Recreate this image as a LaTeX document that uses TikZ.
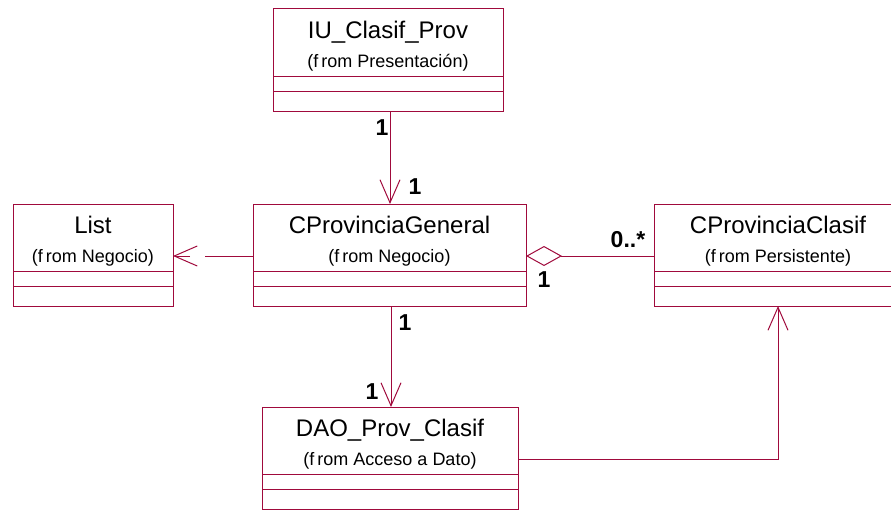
\documentclass[tikz,border=0pt]{standalone}
\usepackage{fontspec}
\setmainfont{Liberation Sans}
\usetikzlibrary{arrows.meta}
\definecolor{umlline}{RGB}{160,10,60}

% One UML class: id, left, top, right, class name, package
\newcommand\umlclass[6]{%
  \node[classbox, minimum width={#4-#2}, anchor=north west] (#1) at (#2,#3) {};
  \draw[umlline] ([yshift=-67pt]#1.north west) -- ([yshift=-67pt]#1.north east);
  \draw[umlline] ([yshift=-82pt]#1.north west) -- ([yshift=-82pt]#1.north east);
  \node[anchor=base, font=\fontsize{24}{28}\selectfont, inner sep=0pt] (#1-name) at ([yshift=-29pt]#1.north) {#5};
  \node[anchor=base, font=\fontsize{18}{22}\selectfont, inner sep=0pt] (#1-pkg) at ([yshift=-58pt]#1.north) {(f\kern3pt rom #6)};
}

\begin{document}
\begin{tikzpicture}[x=1pt, y=-1pt,
    umlline/.style={draw=umlline, line width=1pt},
    classbox/.style={rectangle, umlline, minimum height=102pt, inner sep=0pt, outer sep=0pt},
    navarrow/.style={umlline, -{Straight Barb[length=23pt, width=20pt, line width=1pt]}},
    aggr/.style={umlline, {Diamond[open, length=36pt, width=20pt, line width=1pt]}-},
    mult/.style={font=\bfseries\fontsize{23}{26}\selectfont, inner sep=0pt}]
  \useasboundingbox (0,0) rectangle (891,511);
  \clip (0,0) rectangle (891,511);

  % classes
  \umlclass{iu}{273}{9}{503}{IU\_Clasif\_Prov}{Presentación}
  \umlclass{list}{13}{204}{173}{List}{Negocio}
  \umlclass{cpg}{253}{204}{526}{CProvinciaGeneral}{Negocio}
  \umlclass{cpc}{654}{204}{902}{CProvinciaClasif}{Persistente}
  \umlclass{dao}{262}{407}{518}{DAO\_Prov\_Clasif}{Acceso a Dato}

  % IU_Clasif_Prov -> CProvinciaGeneral
  \draw[navarrow] (390,112) coordinate (iu-s) -- (iu-s |- cpg.north);
  \node[mult] (m-iu) at (382,128) {1};
  \node[mult] (m-cpg-top) at (415,187) {1};

  % CProvinciaGeneral -> List
  \draw[navarrow, dash pattern=on 48pt off 15pt on 200pt] (cpg.west |- 0,256) coordinate (cpg-w) -- (cpg-w -| list.east);

  % CProvinciaGeneral <>-- CProvinciaClasif
  \draw[aggr] (cpg.east |- 0,256) coordinate (cpg-e) -- (cpg-e -| cpc.west);
  \node[mult] (m-cpg-ag) at (544,280) {1};
  \node[mult] (m-cpc) at (628,240) {0..*};

  % CProvinciaGeneral -> DAO_Prov_Clasif
  \draw[navarrow] (cpg.south -| 391,0) coordinate (cpg-s) -- (cpg-s |- dao.north);
  \node[mult] (m-cpg-bot) at (405,323) {1};
  \node[mult] (m-dao) at (372,392) {1};

  % DAO_Prov_Clasif -> CProvinciaClasif
  \draw[navarrow] (dao.east |- 0,459) coordinate (dao-e) -- (778,459) coordinate (bend) -- (bend |- cpc.south);
\end{tikzpicture}
\end{document}
